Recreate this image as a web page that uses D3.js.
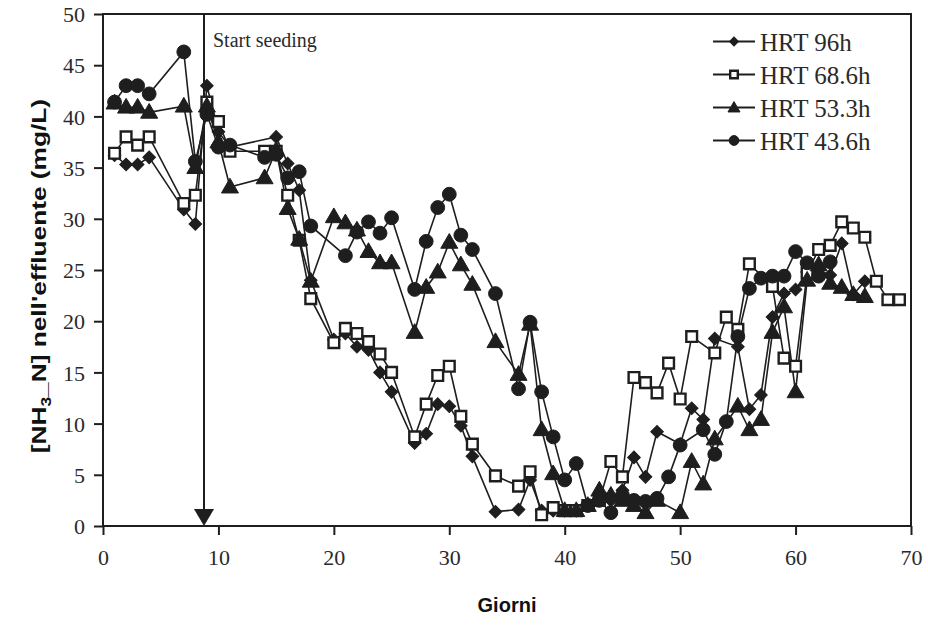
<!DOCTYPE html>
<html>
<head>
<meta charset="utf-8">
<script src="https://cdn.jsdelivr.net/npm/d3@7"></script>
<style>
html,body{margin:0;padding:0;background:#fff;}
svg{display:block;}
</style>
</head>
<body>
<svg id="chart" width="928" height="626"></svg>
<script>
// ---- data ----
const seriesNames = ["HRT 96h", "HRT 68.6h", "HRT 53.3h", "HRT 43.6h"];
const xTicks = [0, 10, 20, 30, 40, 50, 60, 70];
const yTicks = [0, 5, 10, 15, 20, 25, 30, 35, 40, 45, 50];
const seedingDay = 8.75;

const days96 = [1,2,3,4,7,8,9,10,11,15,16,17,18,20,21,22,23,24,25,27,28,29,30,31,32,34,36,37,38,39,40,41,42,43,44,45,46,47,48,50,51,52,53,55,56,57,58,59,60,61,62,63,64,65,66];
const vals96 = [36.2,35.3,35.3,36.0,30.9,29.5,43.0,38.5,37.0,38.0,35.4,32.8,24.0,18.2,18.8,17.5,17.2,15.0,13.1,8.1,9.0,11.9,11.7,9.8,6.8,1.4,1.6,4.5,1.5,1.5,1.5,1.5,2.0,3.0,2.5,3.5,6.7,4.8,9.2,8.0,11.5,10.4,18.3,17.5,11.4,12.8,20.4,22.7,23.1,24.8,25.0,24.5,27.6,22.6,23.9];

const days686 = [1,2,3,4,7,8,9,10,11,14,15,16,17,18,20,21,22,23,24,25,27,28,29,30,31,32,34,36,37,38,39,40,41,42,43,44,45,46,47,48,49,50,51,53,54,55,56,58,59,60,61,62,63,64,65,66,67,68,69];
const vals686 = [36.4,38.0,37.2,38.0,31.5,32.3,41.4,39.5,36.6,36.6,36.6,32.3,27.9,22.2,17.9,19.3,18.8,18.0,16.8,15.0,8.7,11.9,14.7,15.6,10.7,8.0,4.9,3.9,5.3,1.1,1.8,1.5,1.5,2.0,2.5,6.3,4.8,14.5,14.0,13.0,15.9,12.4,18.5,16.9,20.4,19.2,25.6,23.4,16.4,15.6,24.7,27.0,27.4,29.7,29.1,28.2,23.9,22.1,22.1];

const days533 = [1,2,3,4,7,8,9,10,11,14,15,16,17,18,20,21,22,23,24,25,27,28,29,30,31,32,34,36,37,38,39,40,41,42,43,44,45,46,47,48,50,51,52,53,55,56,57,58,59,60,61,62,63,64,65,66];
const vals533 = [41.3,40.9,40.9,40.4,41.0,35.0,41.0,37.5,33.1,34.0,36.7,31.0,28.0,23.9,30.2,29.6,28.9,26.8,25.7,25.7,18.9,23.3,24.8,27.7,25.5,23.6,18.0,14.8,19.7,9.4,5.1,1.5,1.5,2.0,3.5,3.0,2.5,2.0,1.3,2.5,1.3,6.3,4.1,8.5,11.7,9.4,10.4,18.9,21.4,13.1,24.0,25.5,23.7,23.3,22.6,22.4];

const days436 = [1,2,3,4,7,8,9,10,11,14,15,16,17,18,21,22,23,24,25,27,28,29,30,31,32,34,36,37,38,39,40,41,42,43,44,45,46,47,48,49,50,52,53,54,55,56,57,58,59,60,61,62,63];
const vals436 = [41.4,43.0,43.0,42.2,46.3,35.6,40.2,37.0,37.2,36.0,36.3,34.0,34.6,29.3,26.4,28.7,29.7,28.6,30.1,23.1,27.8,31.1,32.4,28.4,27.0,22.7,13.4,19.9,13.1,8.7,4.5,6.1,2.0,2.5,1.3,3.0,2.5,2.4,2.7,4.8,7.9,9.4,7.0,10.2,18.5,23.2,24.2,24.4,24.4,26.8,25.7,24.4,25.8];

// ---- layout ----
const svg = d3.select("#chart");
const x = d3.scaleLinear().domain([0, 70]).range([103, 911]);
const y = d3.scaleLinear().domain([0, 50]).range([526, 14]);
const ink = "#1e1e1e";
const serif = "'Liberation Serif','Times New Roman',serif";
const sans = "'Liberation Sans',Arial,sans-serif";

const series = [
  {name: seriesNames[0], days: days96, vals: vals96, type: "diamond"},
  {name: seriesNames[1], days: days686, vals: vals686, type: "square"},
  {name: seriesNames[2], days: days533, vals: vals533, type: "triangle"},
  {name: seriesNames[3], days: days436, vals: vals436, type: "circle"}
];

function markerPath(type, scale) {
  const s = scale || 1;
  if (type === "diamond") return d3.symbol(d3.symbolSquare, 80 * s)();
  if (type === "square") return d3.symbol(d3.symbolSquare, 115 * s)();
  if (type === "triangle") return d3.symbol(d3.symbolTriangle, 125 * s)();
  return d3.symbol(d3.symbolCircle, 150 * s)();
}
function drawMarker(g, type, cx, cy, scale) {
  const p = g.append("path")
    .attr("d", markerPath(type, scale))
    .attr("fill", type === "square" ? "#fff" : ink)
    .attr("stroke", ink)
    .attr("stroke-width", type === "square" ? 2.4 : 1);
  if (type === "diamond") p.attr("transform", `translate(${cx},${cy}) rotate(45)`);
  else if (type === "triangle") p.attr("transform", `translate(${cx},${cy+1})`);
  else p.attr("transform", `translate(${cx},${cy})`);
}

// axes
const xAxis = d3.axisBottom(x).tickValues(xTicks).tickSize(9).tickPadding(14).tickFormat(d3.format("d"));
const yAxis = d3.axisLeft(y).tickValues(yTicks).tickSize(9).tickPadding(9).tickFormat(d3.format("d"));

const gx = svg.append("g").attr("transform", `translate(0,${y(0)})`).call(xAxis);
const gy = svg.append("g").attr("transform", `translate(${x(0)},0)`).call(yAxis);
[gx, gy].forEach(g => {
  g.select(".domain").remove();
  g.selectAll(".tick line").attr("stroke", ink).attr("stroke-width", 2);
  g.selectAll(".tick text").attr("fill", "#2a2a2a").attr("font-family", serif).attr("font-size", 22);
});
gy.selectAll(".tick text").attr("dy", "0.35em");

// frame
svg.append("rect")
  .attr("x", x(0)).attr("y", y(50))
  .attr("width", x(70) - x(0)).attr("height", y(0) - y(50))
  .attr("fill", "none").attr("stroke", ink).attr("stroke-width", 2);

// start seeding arrow
svg.append("line")
  .attr("x1", x(seedingDay)).attr("x2", x(seedingDay))
  .attr("y1", y(50)).attr("y2", y(0) - 14)
  .attr("stroke", ink).attr("stroke-width", 2);
svg.append("path")
  .attr("d", `M${x(seedingDay)-10},${y(0)-17} L${x(seedingDay)+10},${y(0)-17} L${x(seedingDay)},${y(0)} Z`)
  .attr("fill", ink);
svg.append("text")
  .attr("x", x(seedingDay) + 9).attr("y", 47)
  .attr("font-family", serif).attr("font-size", 20).attr("fill", "#2a2a2a")
  .text("Start seeding");

// series
const line = d3.line().x(d => x(d[0])).y(d => y(d[1]));
series.forEach(s => {
  const pts = s.days.map((d, i) => [d, s.vals[i]]);
  svg.append("path").datum(pts)
    .attr("d", line).attr("fill", "none")
    .attr("stroke", ink).attr("stroke-width", 1.6);
});
series.forEach(s => {
  const g = svg.append("g");
  s.days.forEach((d, i) => drawMarker(g, s.type, x(d), y(s.vals[i]), 1));
});

// legend
const legend = svg.append("g");
const legY = [41.5, 74.5, 107.5, 140.5];
series.forEach((s, i) => {
  const ly = legY[i];
  legend.append("line").attr("x1", 713).attr("x2", 755).attr("y1", ly).attr("y2", ly)
    .attr("stroke", ink).attr("stroke-width", 2);
  drawMarker(legend, s.type, 734, ly, 0.5);
  legend.append("text").attr("x", 760).attr("y", ly + 9)
    .attr("font-family", serif).attr("font-size", 25).attr("fill", "#2a2a2a")
    .text(s.name);
});

// axis titles
svg.append("text")
  .attr("x", x(35)).attr("y", 612)
  .attr("text-anchor", "middle")
  .attr("font-family", sans).attr("font-weight", "bold").attr("font-size", 20).attr("fill", "#111")
  .text("Giorni");

const yt = svg.append("text")
  .attr("transform", `translate(46,${y(24.4)}) rotate(-90) scale(1.25,1)`)
  .attr("text-anchor", "middle")
  .attr("font-family", sans).attr("font-weight", "bold").attr("font-size", 21).attr("fill", "#111");
yt.append("tspan").text("[NH");
yt.append("tspan").attr("font-size", 14).attr("dy", 5).text("3");
yt.append("tspan").attr("dy", -5).text("_N] nell'effluente (mg/L)");
</script>
</body>
</html>
